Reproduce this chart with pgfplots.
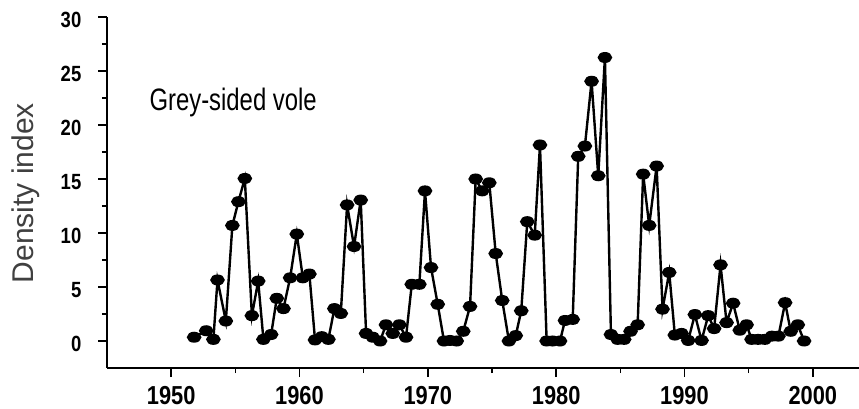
\documentclass[border=0pt]{standalone}
\usepackage{fontspec}
\setmainfont{Liberation Sans}
\newfontfamily\titlefont[FakeStretch=0.77]{Liberation Sans}
\newfontfamily\xtickfont[FakeStretch=0.84]{Liberation Sans}
\newfontfamily\ytickfont[FakeStretch=0.84]{Liberation Sans}
\usepackage{pgfplots}
\pgfplotsset{compat=1.18}

\pgfplotstableread{
year value
1951.79 0.35
1952.73 0.95
1953.29 0.15
1953.61 5.65
1954.26 1.85
1954.77 10.7
1955.24 12.9
1955.74 15.05
1956.29 2.35
1956.78 5.55
1957.19 0.15
1957.79 0.6
1958.23 3.95
1958.75 3.0
1959.27 5.85
1959.79 9.9
1960.26 5.85
1960.77 6.2
1961.21 0.1
1961.74 0.4
1962.25 0.15
1962.72 3.0
1963.22 2.55
1963.71 12.6
1964.25 8.75
1964.77 13.05
1965.19 0.7
1965.71 0.35
1966.28 0.0
1966.74 1.5
1967.27 0.7
1967.78 1.5
1968.30 0.35
1968.75 5.25
1969.34 5.25
1969.78 13.9
1970.25 6.8
1970.77 3.4
1971.26 0.0
1971.73 0.05
1972.25 0.0
1972.76 0.9
1973.29 3.2
1973.73 15.0
1974.24 13.9
1974.79 14.65
1975.29 8.1
1975.80 3.75
1976.32 0.0
1976.85 0.5
1977.28 2.8
1977.75 11.05
1978.33 9.8
1978.74 18.15
1979.26 0.0
1979.73 0.0
1980.30 0.0
1980.69 1.9
1981.29 2.0
1981.72 17.1
1982.24 18.05
1982.76 24.05
1983.28 15.3
1983.80 26.25
1984.27 0.6
1984.79 0.15
1985.30 0.15
1985.80 0.9
1986.35 1.5
1986.78 15.45
1987.25 10.7
1987.83 16.2
1988.29 2.95
1988.81 6.35
1989.25 0.55
1989.77 0.7
1990.29 0.05
1990.81 2.45
1991.33 0.05
1991.85 2.35
1992.31 1.15
1992.81 7.05
1993.28 1.7
1993.79 3.5
1994.31 1.0
1994.84 1.5
1995.23 0.15
1995.74 0.15
1996.26 0.15
1996.81 0.45
1997.32 0.45
1997.84 3.55
1998.28 0.9
1998.83 1.5
1999.32 0.0
}\voledata

\begin{document}
\begin{tikzpicture}
\useasboundingbox (-107pt,-41pt) rectangle (752pt,368pt);
\begin{axis}[
  at={(0,0)}, anchor=south west,
  scale only axis, width=752pt, height=351pt,
  xmin=1945, xmax=2003.6, ymin=-2.5, ymax=30,
  axis x line=bottom, axis y line=left,
  axis line style={line width=1.8pt, -},
  xtick={1950,1960,...,2000},
  minor xtick={1955,1965,...,1995},
  ytick={0,5,...,30},
  minor ytick={2.5,7.5,...,27.5},
  tick align=outside,
  major tick length=9pt, minor tick length=5pt,
  tick style={line width=1.5pt, black},
  /pgf/number format/1000 sep={},
  /pgf/number format/assume math mode=true,
  xticklabel style={font=\xtickfont\bfseries\fontsize{26}{26}\selectfont, inner sep=0pt, anchor=north, yshift=-9.5pt},
  yticklabel style={font=\ytickfont\bfseries\fontsize{22}{22}\selectfont, inner sep=0pt, anchor=east, xshift=-16.5pt, yshift=-3pt},
  clip=false,
]
\addplot[black, line width=2.4pt, mark=*, mark size=4.3pt,
  mark options={xscale=1.4, draw=none, fill=black}] table[x=year, y=value] {\voledata};
\node[anchor=base west, inner sep=0pt, font=\titlefont\fontsize{31}{31}\selectfont]
  at (axis cs:1948.3,21.3) {Grey-sided vole};
\node[rotate=90, anchor=base, inner sep=0pt, text=black!75, font=\fontsize{30}{30}\selectfont]
  at (axis cs:1939.24,13.7) {Density index};
\end{axis}
\end{tikzpicture}
\end{document}
